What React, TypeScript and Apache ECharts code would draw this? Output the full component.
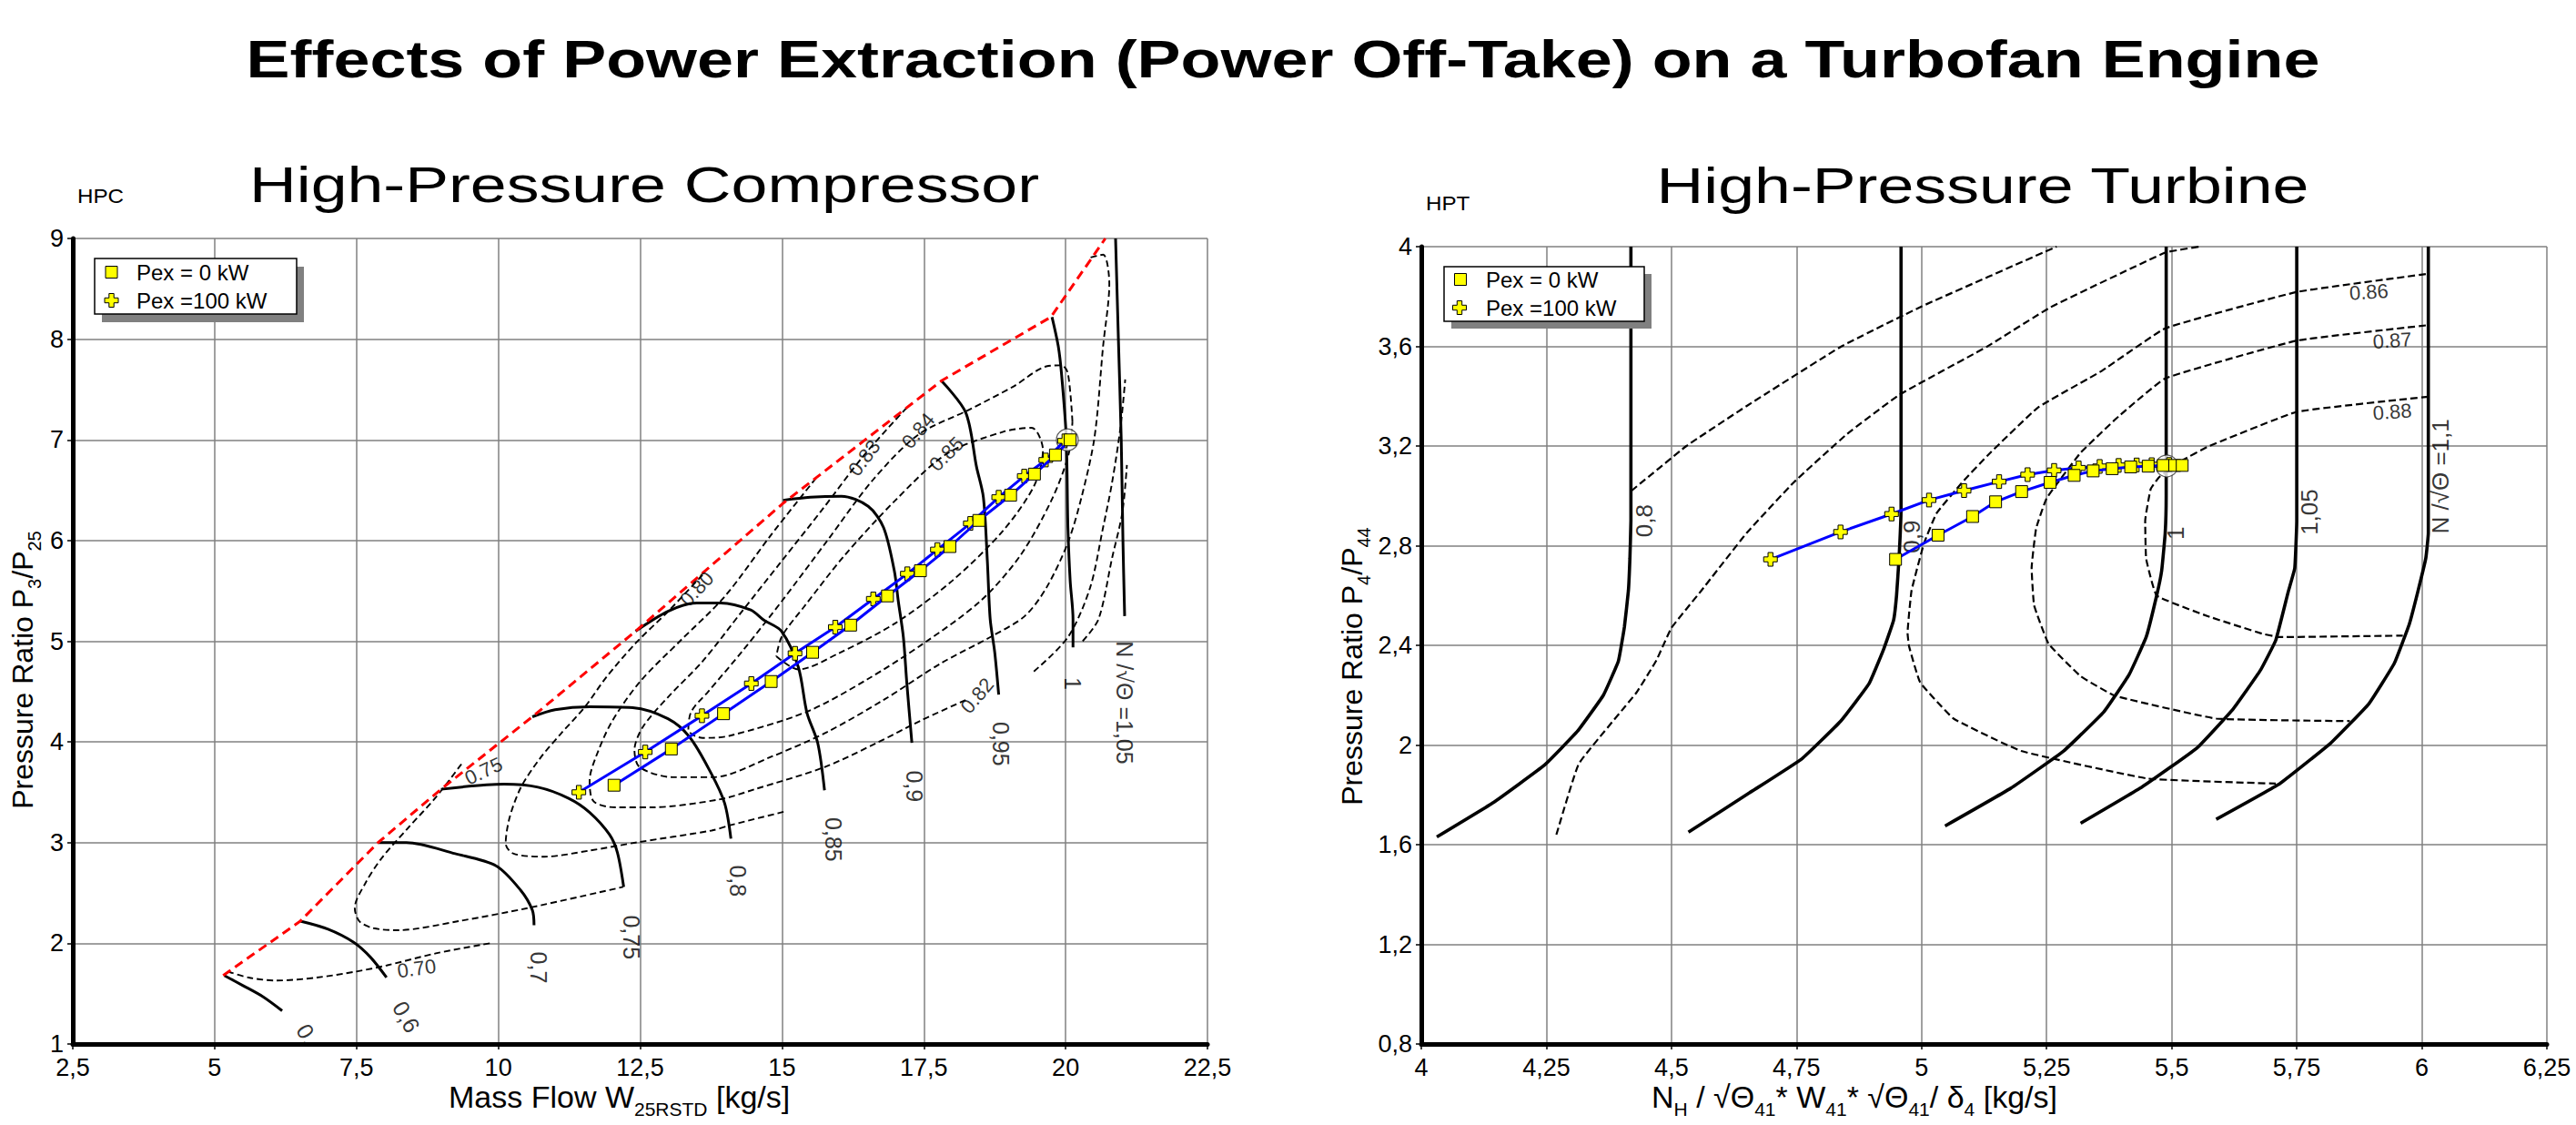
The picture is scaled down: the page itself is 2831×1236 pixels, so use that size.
import React, { useEffect, useRef } from "react";
import * as echarts from "echarts";

const FONT = "'Liberation Sans', Arial, Helvetica, sans-serif";

const mainTitle = "Effects of Power Extraction (Power Off-Take) on a Turbofan Engine";
const hpcTitle = "High-Pressure Compressor";
const hptTitle = "High-Pressure Turbine";
const legendLabels = ["Pex = 0 kW", "Pex =100 kW"];

// axis ranges [min, max, step]
const hpcXRange = [2.5, 22.5, 2.5];
const hpcYRange = [1, 9, 1];
const hptXRange = [4, 6.25, 0.25];
const hptYRange = [0.8, 4, 0.4];

// ---------------- HPC (compressor map) ----------------
const hpcSurge = [[5.15,1.68],[6.51,2.22],[7.88,3.0],[8.99,3.53],[10.6,4.25],[12.42,5.1],[15.02,6.37],[17.82,7.59],[19.74,8.22],[20.7,9.0]];

const hpcN050 = [[5.17,1.68],[5.5,1.58],[5.85,1.47],[6.19,1.33]];
const hpcN060 = [[6.51,2.22],[7.0,2.14],[7.45,2.01],[7.75,1.86],[8.03,1.66]];
const hpcN070 = [[7.88,3.0],[8.38,3.0],[9.24,2.89],[9.96,2.77],[10.39,2.53],[10.6,2.33],[10.63,2.18]];
const hpcN075 = [[8.99,3.53],[10.1,3.58],[10.7,3.55],[11.24,3.44],[11.61,3.3],[11.96,3.08],[12.1,2.9],[12.21,2.56]];
const hpcN080 = [[10.6,4.25],[11.0,4.32],[11.61,4.35],[12.37,4.34],[12.99,4.23],[13.37,4.05],[13.75,3.69],[13.99,3.39],[14.1,3.04]];
const hpcN085 = [[12.42,5.1],[13.0,5.3],[13.5,5.38],[13.92,5.38],[14.45,5.31],[14.68,5.21],[14.99,5.1],[15.29,4.74],[15.44,4.29],[15.63,3.99],[15.75,3.52]];
const hpcN090 = [[15.02,6.4],[15.5,6.43],[16.05,6.44],[16.52,6.34],[16.79,6.13],[16.98,5.7],[17.05,5.4],[17.14,5.04],[17.2,4.59],[17.29,3.99]];
const hpcN095 = [[17.82,7.58],[18.24,7.27],[18.43,6.73],[18.55,6.43],[18.62,5.8],[18.67,5.22],[18.75,4.89],[18.82,4.47]];
const hpcN100 = [[19.76,8.22],[19.87,7.93],[19.93,7.64],[20.01,7.03],[20.04,6.13],[20.08,5.6],[20.13,5.22],[20.13,4.94]];
const hpcN105 = [[20.88,9.0],[20.93,8.0],[20.98,7.0],[21.01,6.0],[21.04,5.25]];

const hpcE070 = [[5.23,1.72],[5.6,1.66],[6.09,1.63],[6.8,1.66],[7.5,1.72],[8.03,1.78],[8.9,1.9],[9.85,2.0]];
const hpcE075 = [[9.35,3.78],[8.9,3.45],[8.4,3.14],[7.95,2.85],[7.66,2.6],[7.47,2.35],[7.55,2.22],[7.8,2.15],[8.23,2.13],[9.3,2.22],[10.52,2.35],[12.2,2.56]];
const hpcE080 = [[13.6,5.66],[13.0,5.3],[12.42,4.98],[11.9,4.64],[11.53,4.35],[11.1,4.08],[10.74,3.84],[10.4,3.55],[10.2,3.25],[10.13,2.99],[10.27,2.89],[10.81,2.86],[11.6,2.92],[12.42,3.0],[13.76,3.12],[14.07,3.17],[15.06,3.31]];
const hpcE082 = [[15.6,6.62],[14.8,6.05],[14.0,5.45],[13.2,5.0],[12.5,4.6],[12.0,4.2],[11.72,3.85],[11.61,3.62],[11.68,3.41],[12.07,3.35],[12.68,3.35],[13.91,3.43],[14.52,3.53],[15.75,3.75],[16.67,3.99],[17.44,4.21],[18.25,4.42]];
const hpcE083 = [[17.2,7.32],[16.45,6.85],[15.7,6.3],[15.0,5.8],[14.3,5.3],[13.6,4.8],[13.0,4.45],[12.55,4.15],[12.4,3.92],[12.49,3.75],[13.07,3.65],[13.79,3.65],[14.8,3.85],[15.8,4.1],[16.8,4.42],[17.8,4.78],[18.7,5.05],[19.28,5.25],[19.66,5.53],[20.04,5.98],[20.28,6.43],[20.51,7.03],[20.66,7.93],[20.77,8.55],[20.66,8.84],[20.43,8.81]];
const hpcE084 = [[20.12,7.18],[20.04,7.66],[19.93,7.74],[19.66,7.73],[19.08,7.53],[18.3,7.3],[17.4,7.05],[16.6,6.6],[15.8,6.0],[15.0,5.4],[14.3,4.9],[13.7,4.5],[13.4,4.3],[13.35,4.12],[13.6,4.04],[14.07,4.06],[15.44,4.3],[16.5,4.62],[17.5,4.98],[18.5,5.4],[19.2,5.85],[19.75,6.4],[20.05,6.85],[20.12,7.18]];
const hpcE085 = [[14.9,4.85],[15.29,4.72],[16.0,4.88],[17.0,5.18],[18.0,5.6],[18.9,6.1],[19.45,6.55],[19.6,6.9],[19.4,7.12],[18.9,7.08],[17.9,6.86],[17.0,6.4],[16.1,5.85],[15.4,5.35],[15.0,5.05],[14.9,4.85]];
const hpcEd1 = [[19.44,4.7],[20.04,5.04],[20.43,5.53],[20.66,6.13],[20.82,6.58],[20.97,7.14],[21.05,7.6]];
const hpcEd2 = [[20.3,5.0],[20.58,5.22],[20.82,5.83],[21.0,6.28],[21.08,6.75]];

const hpcPex0 = [[12.04,3.57],[13.05,3.93],[13.97,4.28],[14.81,4.6],[15.54,4.89],[16.21,5.16],[16.86,5.45],[17.44,5.7],[17.96,5.94],[18.47,6.2],[19.03,6.45],[19.45,6.66],[19.82,6.85],[20.08,7.0]];
const hpcPex100 = [[11.42,3.5],[12.59,3.9],[13.59,4.26],[14.46,4.58],[15.23,4.88],[15.94,5.14],[16.61,5.42],[17.21,5.67],[17.74,5.91],[18.32,6.17],[18.82,6.43],[19.27,6.64],[19.65,6.8],[19.98,6.99]];
const hpcDesign = [[20.03,7.0]];

const hpcSpeedLabels = [[6.63,1.1,"0,",-60],[8.38,1.27,"0,6",-60],[10.71,1.76,"0,7",-90],[12.35,2.06,"0,75",-90],[14.22,2.62,"0,8",-90],[15.91,3.03,"0,85",-90],[17.33,3.56,"0,9",-90],[18.86,3.98,"0,95",-90],[20.12,4.58,"1",-90],[21.04,4.39,"N /√Θ =1,05",-90]];
const hpcEffLabels = [[8.56,1.75,"0.70",8],[9.74,3.71,"0.75",25],[13.5,5.52,"0.80",47],[16.45,6.82,"0.83",53],[17.4,7.09,"0.84",50],[17.9,6.86,"0.85",45],[18.44,4.46,"0.82",50]];

// ---------------- HPT (turbine map) ----------------
const hptN080 = [[4.419,4.0],[4.419,2.9],[4.417,2.75],[4.414,2.62],[4.406,2.474],[4.394,2.337],[4.364,2.2],[4.3125,2.056],[4.246,1.919],[4.144,1.769],[4.031,1.631]];
const hptN090 = [[4.959,4.0],[4.959,2.95],[4.955,2.75],[4.95,2.6],[4.944,2.5],[4.924,2.383],[4.895,2.246],[4.838,2.095],[4.761,1.945],[4.656,1.808],[4.534,1.65]];
const hptN100 = [[5.489,4.0],[5.489,3.0],[5.487,2.85],[5.48,2.7],[5.47,2.6],[5.449,2.433],[5.415,2.283],[5.364,2.132],[5.284,1.976],[5.178,1.826],[5.047,1.675]];
const hptN105 = [[5.75,4.0],[5.75,2.9],[5.746,2.71],[5.733,2.615],[5.708,2.42],[5.678,2.302],[5.623,2.145],[5.551,1.989],[5.441,1.832],[5.318,1.686]];
const hptN110 = [[6.013,4.0],[6.013,2.85],[6.008,2.75],[5.992,2.615],[5.975,2.485],[5.945,2.328],[5.894,2.165],[5.818,2.008],[5.716,1.845],[5.589,1.702]];

const hptEa = [[4.42,3.02],[4.53,3.2],[4.65,3.36],[4.84,3.6],[5.0,3.76],[5.27,4.0]];
const hptEb = [[4.27,1.64],[4.315,1.925],[4.43,2.21],[4.47,2.34],[4.5,2.47],[4.56,2.62],[4.65,2.85],[4.745,3.055],[4.851,3.248],[4.956,3.406],[5.131,3.599],[5.258,3.757],[5.487,3.976],[5.555,4.0]];
const hptE086 = [[6.008,3.89],[5.75,3.818],[5.487,3.672],[5.36,3.501],[5.233,3.355],[5.131,3.16],[5.08,3.051],[5.03,2.93],[5.005,2.81],[4.98,2.62],[4.972,2.45],[4.975,2.396],[4.997,2.252],[5.064,2.106],[5.199,1.976],[5.453,1.865],[5.708,1.845]];
const hptE087 = [[6.008,3.684],[5.75,3.623],[5.487,3.471],[5.394,3.319],[5.318,3.173],[5.25,2.99],[5.229,2.869],[5.22,2.71],[5.225,2.56],[5.254,2.406],[5.318,2.276],[5.386,2.198],[5.589,2.106],[5.856,2.096]];
const hptE088 = [[6.013,3.398],[5.75,3.337],[5.572,3.197],[5.521,3.142],[5.475,3.075],[5.458,3.027],[5.447,2.9],[5.449,2.747],[5.47,2.6],[5.572,2.517],[5.682,2.446],[5.716,2.433],[5.962,2.439]];

const hptPex0 = [[4.948,2.745],[5.033,2.842],[5.102,2.917],[5.148,2.976],[5.2,3.017],[5.257,3.054],[5.305,3.082],[5.343,3.1],[5.381,3.109],[5.418,3.116],[5.453,3.119],[5.483,3.122],[5.506,3.122],[5.521,3.122]];
const hptPex100 = [[4.698,2.745],[4.838,2.855],[4.94,2.927],[5.015,2.983],[5.085,3.021],[5.155,3.057],[5.212,3.085],[5.265,3.102],[5.314,3.112],[5.356,3.118],[5.394,3.122],[5.43,3.124],[5.46,3.125],[5.495,3.126]];
const hptDesign = [[5.49,3.12]];

const hptSpeedLabels = [[4.445,2.9,"0,8",90],[4.98,2.836,"0,9",90],[5.508,2.85,"1",90],[5.775,2.935,"1,05",90],[6.038,3.078,"N /√Θ =1,1",90]];
const hptEffLabels = [[5.894,3.818,"0.86",4],[5.941,3.623,"0.87",4],[5.941,3.337,"0.88",4]];

// axis titles (rich text)
const hpcXName = "{m|Mass Flow W}{s|25RSTD}{m|\u00A0[kg/s]}";
const hptXName = "{m|N}{s|H}{m|\u00A0/ √Θ}{s|41}{m|* W}{s|41}{m|* √Θ}{s|41}{m|/ δ}{s|4}{m|\u00A0[kg/s]}";
const hpcYName = "{m|Pressure Ratio P}{s|3}{m|/P}{s|25}";
const hptYName = "{m|Pressure Ratio P}{s|4}{m|/P}{s|44}";

const CROSS = "path://M3.2,0H6.8V3.2H10V6.8H6.8V10H3.2V6.8H0V3.2H3.2Z";

function fmt(v: number, d: number) {
  return String(Number(v.toFixed(d))).replace(".", ",");
}

function curve(data: number[][], gi: number, ls: any, smooth: number, z = 3) {
  return {
    type: "line", xAxisIndex: gi, yAxisIndex: gi, data, showSymbol: false, symbol: "none",
    smooth, lineStyle: ls, silent: true, z, animation: false,
  };
}

function labels(items: any[], gi: number, fontSize: number) {
  return {
    type: "scatter", xAxisIndex: gi, yAxisIndex: gi, symbolSize: 1, silent: true, z: 8,
    itemStyle: { color: "rgba(0,0,0,0)" },
    data: items.map(([x, y, t, r]) => ({
      value: [x, y],
      label: { show: true, position: "inside", formatter: t, rotate: r, fontSize, fontFamily: FONT, color: "#000" },
    })),
  };
}

function opLine(data: number[][], gi: number, symbol: string, size: number, z: number) {
  return {
    type: "line", xAxisIndex: gi, yAxisIndex: gi, data, symbol, symbolSize: size, showSymbol: true,
    showAllSymbol: true, silent: true, z,
    lineStyle: { color: "#0000ff", width: 3 },
    itemStyle: { color: "#ffff00", borderColor: "#000", borderWidth: 1 },
  };
}

function design(data: number[][], gi: number) {
  return {
    type: "scatter", xAxisIndex: gi, yAxisIndex: gi, data, symbol: "circle", symbolSize: 24, silent: true, z: 6,
    itemStyle: { color: "#ffffff", borderColor: "#333", borderWidth: 1.2 },
  };
}

function txt(text: string, x: number, y: number, o: any = {}) {
  return {
    type: "text", x, y, rotation: o.rotation || 0, scaleX: o.scaleX || 1, z: 100, silent: true,
    style: {
      text, fill: "#000", fontFamily: FONT, fontSize: o.fontSize || 24, fontWeight: o.fontWeight || "normal",
      align: o.align || "center", verticalAlign: "middle", rich: o.rich,
    },
  };
}

function richStyle(main: number, sub: number, lh: number) {
  return {
    m: { fontSize: main, lineHeight: lh, fontFamily: FONT, fill: "#000" },
    s: { fontSize: sub, fontFamily: FONT, fill: "#000", verticalAlign: "bottom" },
  };
}

function legend(bx: number, by: number, w: number, h: number, sh: number[], sq: number[], cr: number[], tx: number) {
  const s = 15, a = 2.7, cx = cr[0], cy = cr[1];
  const pts = [
    [cx - a, cy - s / 2], [cx + a, cy - s / 2], [cx + a, cy - a], [cx + s / 2, cy - a], [cx + s / 2, cy + a],
    [cx + a, cy + a], [cx + a, cy + s / 2], [cx - a, cy + s / 2], [cx - a, cy + a], [cx - s / 2, cy + a],
    [cx - s / 2, cy - a], [cx - a, cy - a],
  ];
  return [
    { type: "rect", z: 100, silent: true, shape: { x: bx + sh[0], y: by + sh[1], width: w, height: h }, style: { fill: "#808080" } },
    { type: "rect", z: 101, silent: true, shape: { x: bx, y: by, width: w, height: h }, style: { fill: "#fff", stroke: "#000", lineWidth: 1.5 } },
    { type: "rect", z: 102, silent: true, shape: { x: sq[0] - 6.5, y: sq[1] - 6.5, width: 13, height: 13 }, style: { fill: "#ffff00", stroke: "#000", lineWidth: 1 } },
    { type: "polygon", z: 102, silent: true, shape: { points: pts }, style: { fill: "#ffff00", stroke: "#000", lineWidth: 1 } },
    { ...txt(legendLabels[0], tx, sq[1], { fontSize: 24, align: "left" }), z: 103 },
    { ...txt(legendLabels[1], tx, cy, { fontSize: 24, align: "left" }), z: 103 },
  ];
}

function axis(range: number[], gi: number, dec: number, isX: boolean) {
  return {
    gridIndex: gi, type: "value", min: range[0], max: range[1], interval: range[2],
    axisLine: { show: true, onZero: false, lineStyle: { color: "#000", width: 5 } },
    axisTick: { show: true, length: 6, lineStyle: { color: "#000", width: 1.5 } },
    axisLabel: {
      fontSize: 27, color: "#000", fontFamily: FONT, margin: isX ? 12 : 10,
      formatter: (v: number) => fmt(v, dec),
    },
    splitLine: { show: true, lineStyle: { color: "#808080", width: 1.5 } },
  };
}

export default function App() {
  const ref = useRef<HTMLDivElement>(null);
  useEffect(() => {
    if (!ref.current) return;
    const chart = echarts.init(ref.current, null, { renderer: "svg" });
    const speed = { color: "#000", width: 3 };
    const eff = { color: "#000", width: 1.9, type: [7, 4] };
    const speedR = { color: "#000", width: 3.6 };
    const effR = { color: "#000", width: 2.2, type: [8, 4] };

    const series: any[] = [
      curve(hpcSurge, 0, { color: "#ff0000", width: 3, type: [10, 6] }, 0, 4),
      ...[hpcN050, hpcN060, hpcN070, hpcN075, hpcN080, hpcN085, hpcN090, hpcN095, hpcN100, hpcN105].map((d) => curve(d, 0, speed, 0.3)),
      ...[hpcE070, hpcE075, hpcE080, hpcE082, hpcE083, hpcE084, hpcE085, hpcEd1, hpcEd2].map((d) => curve(d, 0, eff, 0.3)),
      design(hpcDesign, 0),
      opLine(hpcPex100, 0, CROSS, 15, 10),
      opLine(hpcPex0, 0, "rect", 13, 11),
      labels(hpcSpeedLabels, 0, 25),
      labels(hpcEffLabels, 0, 22),

      ...[hptN080, hptN090, hptN100, hptN105, hptN110].map((d) => curve(d, 1, speedR, 0.1)),
      ...[hptEa, hptEb, hptE086, hptE087, hptE088].map((d) => curve(d, 1, effR, 0.1)),
      design(hptDesign, 1),
      opLine(hptPex100, 1, CROSS, 15, 10),
      opLine(hptPex0, 1, "rect", 13, 11),
      labels(hptSpeedLabels, 1, 26),
      labels(hptEffLabels, 1, 22),
    ];

    const graphic: any[] = [
      txt(mainTitle, 1410, 65, { fontSize: 58, fontWeight: "bold", scaleX: 1.24 }),
      txt(hpcTitle, 708, 203, { fontSize: 56, scaleX: 1.28 }),
      txt(hptTitle, 2179, 204, { fontSize: 56, scaleX: 1.28 }),
      txt("HPC", 85, 215, { fontSize: 22, align: "left", scaleX: 1.1 }),
      txt("HPT", 1567, 223, { fontSize: 22, align: "left", scaleX: 1.1 }),
      txt(hpcXName, 493, 1205, { align: "left", rich: richStyle(34, 21, 48) }),
      txt(hptXName, 1815, 1205, { align: "left", rich: richStyle(34, 21, 48) }),
      txt(hpcYName, 25, 736, { rotation: Math.PI / 2, rich: richStyle(32, 20, 46) }),
      txt(hptYName, 1486, 732, { rotation: Math.PI / 2, rich: richStyle(32, 20, 46) }),
      ...legend(104, 284, 222, 61, [8, 9], [122.5, 299], [122.5, 330], 150),
      ...legend(1587, 293, 220, 60, [8, 8], [1605, 307], [1604, 338], 1633),
    ];

    chart.setOption({
      animation: false,
      backgroundColor: "#ffffff",
      grid: [
        { left: 80, top: 262, width: 1247, height: 885, show: false },
        { left: 1562, top: 271, width: 1237, height: 876, show: false },
      ],
      xAxis: [axis(hpcXRange, 0, 1, true), axis(hptXRange, 1, 2, true)],
      yAxis: [axis(hpcYRange, 0, 0, false), axis(hptYRange, 1, 1, false)],
      series,
      graphic,
    });
    return () => chart.dispose();
  }, []);
  return (
    <div
      ref={ref}
      style={{ position: "absolute", left: 0, top: 0, width: 2831, height: 1236, background: "#fff" }}
    />
  );
}
